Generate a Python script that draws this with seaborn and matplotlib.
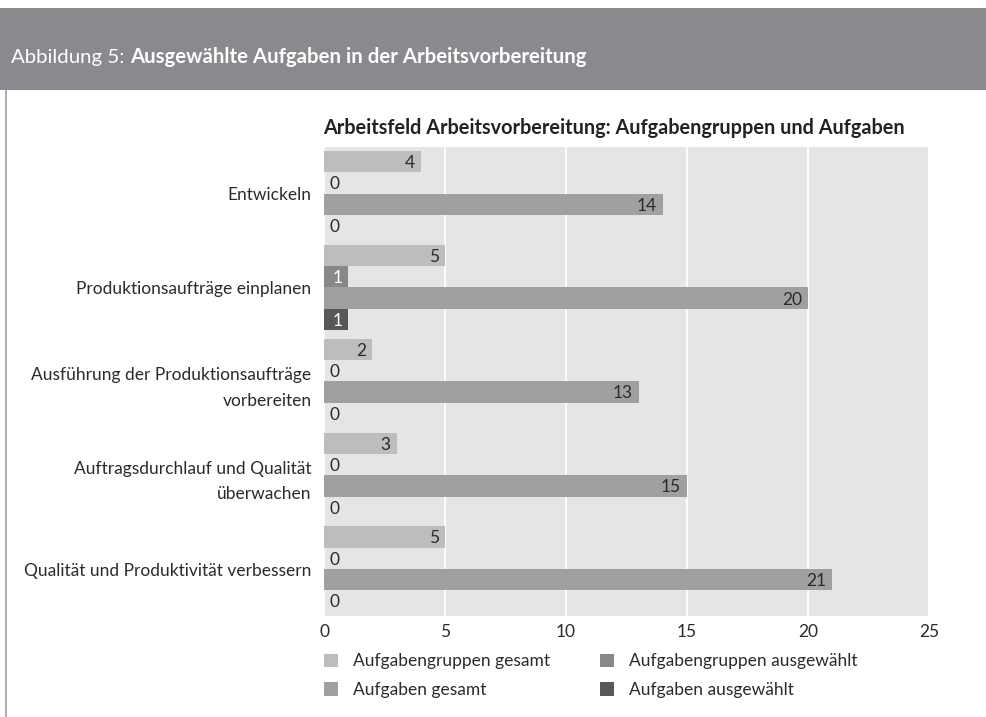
import matplotlib
matplotlib.use("Agg")
import matplotlib.pyplot as plt
from matplotlib.patches import Rectangle, Patch
import seaborn as sns
import pandas as pd

categories = [
    "Entwickeln",
    "Produktionsaufträge einplanen",
    "Ausführung der Produktionsaufträge\nvorbereiten",
    "Auftragsdurchlauf und Qualität\nüberwachen",
    "Qualität und Produktivität verbessern",
]
series_names = [
    "Aufgabengruppen gesamt",
    "Aufgabengruppen ausgewählt",
    "Aufgaben gesamt",
    "Aufgaben ausgewählt",
]
gruppen_gesamt = [4, 5, 2, 3, 5]
gruppen_ausgewaehlt = [0, 1, 0, 0, 0]
aufgaben_gesamt = [14, 20, 13, 15, 21]
aufgaben_ausgewaehlt = [0, 1, 0, 0, 0]
x_ticks = [0, 5, 10, 15, 20, 25]

series_values = [gruppen_gesamt, gruppen_ausgewaehlt, aufgaben_gesamt, aufgaben_ausgewaehlt]
colors = ["#bdbdbf", "#88888b", "#a0a0a3", "#58585a"]
label_colors = ["#2b2b2b", "white", "#2b2b2b", "white"]

rows = []
for name, vals in zip(series_names, series_values):
    for cat, v in zip(categories, vals):
        rows.append({"Arbeitsfeld": cat, "Serie": name, "Anzahl": v})
df = pd.DataFrame(rows)

sns.set_theme(style="white")
FONT = "Lato"
plt.rcParams["font.family"] = [FONT, "DejaVu Sans"]
FS = 12.5
TXT = "#2b2b2b"

fig = plt.figure(figsize=(9.86, 7.17), dpi=100)
ax = fig.add_axes([324 / 986, 1 - 616 / 717, (929 - 324) / 986, (616 - 146.7) / 717])

sns.barplot(
    data=df, y="Arbeitsfeld", x="Anzahl", hue="Serie", hue_order=series_names,
    order=categories, palette=dict(zip(series_names, colors)), orient="h",
    width=0.91, gap=0, dodge=True, legend=False, ax=ax, saturation=1,
    linewidth=0, edgecolor="none",
)

ax.set_facecolor("#e5e5e7")
ax.set_xlim(0, 25)
ax.set_ylim(4.5, -0.5)
ax.set_xticks(x_ticks)
ax.set_xticklabels([str(t) for t in x_ticks], fontsize=FS, color=TXT)
ax.tick_params(axis="both", length=0, pad=6)
ax.tick_params(axis="y", pad=9)
for lab in ax.get_yticklabels():
    lab.set_fontsize(FS)
    lab.set_color(TXT)
    lab.set_linespacing(1.75)
ax.set_xlabel("")
ax.set_ylabel("")
for s in ax.spines.values():
    s.set_visible(False)
ax.xaxis.grid(True, color="white", linewidth=1.3)
ax.yaxis.grid(False)
ax.set_axisbelow(True)

# value labels: inside the bar end, or just right of zero for empty bars
for cont, vals, lc in zip(ax.containers, series_values, label_colors):
    for patch, v in zip(cont.patches, vals):
        yc = patch.get_y() + patch.get_height() / 2
        if v == 0:
            ax.annotate(str(v), xy=(0, yc), xytext=(4.3, -1), textcoords="offset points",
                        ha="left", va="center", fontsize=FS, color=TXT)
        else:
            ax.annotate(str(v), xy=(v, yc), xytext=(-4.3, -1), textcoords="offset points",
                        ha="right", va="center", fontsize=FS, color=lc)

ax.set_title("Arbeitsfeld Arbeitsvorbereitung: Aufgabengruppen und Aufgaben",
             fontsize=14.3, fontweight="bold", color="#222222", pad=9.5, x=0.48)

handles = [Patch(facecolor=c, edgecolor="none") for c in colors]
order = [0, 2, 1, 3]
leg = ax.legend([handles[i] for i in order], [series_names[i] for i in order],
                ncol=2, loc="upper left", bbox_to_anchor=(-0.012, -0.065),
                frameon=False, fontsize=FS, handlelength=0.8, handleheight=0.8,
                handletextpad=0.9, columnspacing=2.85, labelspacing=0.72,
                borderaxespad=0)
for t in leg.get_texts():
    t.set_color(TXT)

# header band with figure caption
fig.patches.append(Rectangle((0, 1 - 90 / 717), 1, (90 - 8) / 717, transform=fig.transFigure,
                             facecolor="#8a8a8e", edgecolor="none", zorder=0))
fig.patches.append(Rectangle((5 / 986, 0), 2 / 986, 1 - 90 / 717, transform=fig.transFigure,
                             facecolor="#b0b0b0", edgecolor="none", zorder=0))
HFS = 14.7
t1 = fig.text(11 / 986, 1 - 57 / 717, "Abbildung 5: ", fontsize=HFS, color="white",
              va="center", ha="left", fontweight="normal")
fig.canvas.draw()
bb = t1.get_window_extent(renderer=fig.canvas.get_renderer())
fig.text(bb.x1 / fig.bbox.width, 1 - 57 / 717, "Ausgewählte Aufgaben in der Arbeitsvorbereitung",
         fontsize=HFS, color="white", va="center", ha="left", fontweight="bold")

fig.savefig("out.png", dpi=100, facecolor="white")
